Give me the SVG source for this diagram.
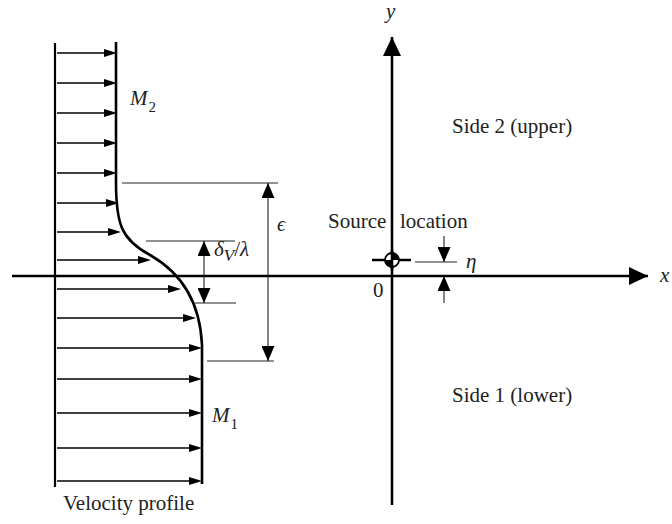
<svg xmlns="http://www.w3.org/2000/svg" width="672" height="524" viewBox="0 0 672 524">
<style>
text{font-family:"Liberation Serif","Times New Roman",serif;font-size:21px;fill:#222}
.it{font-style:italic}
.sub{font-size:15px}
.vel{stroke:#000;stroke-width:1.4;fill:none}
.dim{stroke:#222;stroke-width:1.1;fill:none}
.axis{stroke:#000;stroke-width:2.6;fill:none}
</style>
<defs>
<marker id="va" markerUnits="userSpaceOnUse" markerWidth="13" markerHeight="9" refX="6" refY="4" orient="auto"><path d="M0,0 L13,4 L0,8 z" fill="#000"/></marker>
<marker id="da" markerUnits="userSpaceOnUse" markerWidth="16" markerHeight="13" refX="15" refY="6.5" orient="auto-start-reverse"><path d="M0,0 L15,6.5 L0,13 z" fill="#000"/></marker>
<marker id="aa" markerUnits="userSpaceOnUse" markerWidth="20" markerHeight="18" refX="19" refY="9" orient="auto"><path d="M0,0 L19,9 L0,18 z" fill="#000"/></marker>
</defs>

<g id="axes">
<line class="axis" x1="12" y1="276" x2="648" y2="276" marker-end="url(#aa)"/>
<line class="axis" x1="392" y1="505" x2="392" y2="37" marker-end="url(#aa)"/>
<text class="it" x="660" y="282">x</text>
<text class="it" x="386" y="18" font-size="20">y</text>
<text x="373" y="297">0</text>
</g>

<g id="velocity-profile">
<line x1="55" y1="43" x2="55" y2="487" stroke="#000" stroke-width="2.2"/>
<path d="M116,42 V183 C116,225 122,240 150,255 C180,272 200,300 202,345 V484" fill="none" stroke="#000" stroke-width="2.6"/>
<g class="vel" marker-end="url(#va)">
<line x1="57" y1="53" x2="110" y2="53"/>
<line x1="57" y1="83" x2="110" y2="83"/>
<line x1="57" y1="113" x2="110" y2="113"/>
<line x1="57" y1="143" x2="110" y2="143"/>
<line x1="57" y1="173" x2="110" y2="173"/>
<line x1="57" y1="203" x2="112" y2="203"/>
<line x1="57" y1="232" x2="114" y2="232"/>
<line x1="57" y1="260" x2="144" y2="260"/>
<line x1="57" y1="289" x2="174" y2="289"/>
<line x1="57" y1="318" x2="189" y2="318"/>
<line x1="57" y1="348" x2="195" y2="348"/>
<line x1="57" y1="379" x2="195" y2="379"/>
<line x1="57" y1="413" x2="195" y2="413"/>
<line x1="57" y1="448" x2="195" y2="448"/>
<line x1="57" y1="481" x2="195" y2="481"/>
</g>
<text class="it" x="130" y="105">M<tspan class="sub" font-style="normal" dx="1" dy="7">2</tspan></text>
<text class="it" x="212" y="422">M<tspan class="sub" font-style="normal" dx="1" dy="7">1</tspan></text>
<text x="63" y="510">Velocity profile</text>
</g>

<g id="dimensions">
<line class="dim" x1="122" y1="183" x2="278" y2="183"/>
<line class="dim" x1="207" y1="361" x2="274" y2="361"/>
<line class="dim" x1="268" y1="183" x2="268" y2="361" marker-start="url(#da)" marker-end="url(#da)"/>
<text class="it" x="277" y="231">ϵ</text>
<line class="dim" x1="146" y1="241" x2="235" y2="241"/>
<line class="dim" x1="195" y1="303" x2="236" y2="303"/>
<line class="dim" x1="204" y1="241" x2="204" y2="303" stroke-width="1.4" marker-start="url(#da)" marker-end="url(#da)"/>
<text class="it" x="214" y="256" font-size="24">δ<tspan font-size="17" dy="5">V</tspan><tspan font-style="normal" dy="-5">/</tspan>λ</text>
</g>

<g id="source">
<line x1="372" y1="260" x2="411" y2="260" stroke="#000" stroke-width="2.4"/>
<circle cx="392" cy="260" r="7" fill="#fff" stroke="#000" stroke-width="1.8"/>
<path d="M392,260 V253 A7,7 0 0 1 399,260 z" fill="#000"/>
<path d="M392,260 V267 A7,7 0 0 1 385,260 z" fill="#000"/>
<line x1="392" y1="250" x2="392" y2="270" stroke="#000" stroke-width="2.6"/>
<text x="328" y="228">Source <tspan x="400">location</tspan></text>
</g>

<g id="eta">
<line class="dim" x1="415" y1="262" x2="457" y2="262"/>
<line class="dim" x1="444" y1="236" x2="444" y2="262" stroke-width="1.4" marker-end="url(#da)"/>
<line class="dim" x1="444" y1="303" x2="444" y2="276" stroke-width="1.4" marker-end="url(#da)"/>
<text class="it" x="466" y="268">η</text>
</g>

<g id="sides">
<text x="452" y="133">Side 2 (upper)</text>
<text x="452" y="402">Side 1 (lower)</text>
</g>
</svg>
